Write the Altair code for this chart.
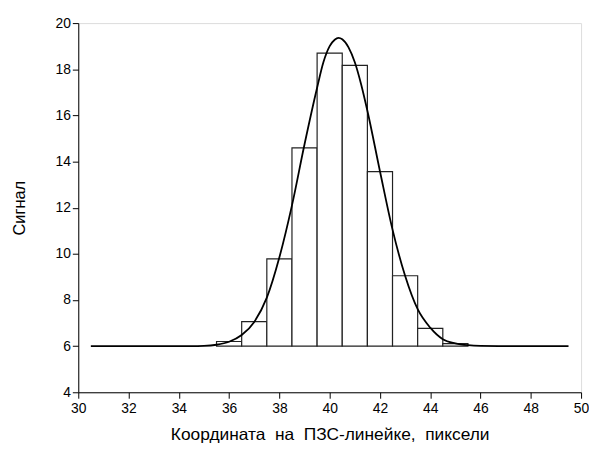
import altair as alt
import pandas as pd

# Histogram bins (centres) and their heights
bin_centers = [36, 37, 38, 39, 40, 41, 42, 43, 44, 45]
bin_values = [6.20, 7.06, 9.78, 14.59, 18.70, 18.17, 13.56, 9.05, 6.77, 6.11]
bin_width = 1.0
baseline = 6.0

# Fitted curve, points
curve_x = [30.5, 33.0, 34.5, 35.0, 35.5, 36.0, 36.5, 37.0, 37.5, 38.0, 38.5, 39.0,
           39.5, 39.75, 40.0, 40.2, 40.35, 40.5, 40.75, 41.0, 41.25, 41.5, 42.0,
           42.5, 43.0, 43.5, 44.0, 44.5, 45.0, 45.5, 46.0, 47.0, 49.5]
curve_y = [6.0, 6.0, 6.0, 6.01, 6.06, 6.19, 6.48, 7.05, 8.1, 9.85, 12.1, 14.75,
           17.2, 18.3, 19.0, 19.28, 19.36, 19.3, 18.95, 18.3, 17.35, 16.2, 13.58,
           11.05, 9.05, 7.6, 6.8, 6.3, 6.12, 6.04, 6.01, 6.0, 6.0]

x_title = "Координата\u00a0\u00a0на\u00a0\u00a0ПЗС-линейке,\u00a0\u00a0пиксели"
y_title = "Сигнал"

bars = pd.DataFrame({
    "left": [c - bin_width / 2 for c in bin_centers],
    "right": [c + bin_width / 2 for c in bin_centers],
    "base": [baseline] * len(bin_centers),
    "value": bin_values,
})
curve = pd.DataFrame({"x": curve_x, "y": curve_y})

FONT = "Liberation Sans"

x_axis = alt.Axis(
    values=list(range(30, 51)),
    labelExpr="datum.value % 2 == 0 ? datum.label : ''",
    tickSize={"expr": "datum.value % 2 == 0 ? 6 : 3"},
    grid=False, domainColor="black", tickColor="black", labelColor="black",
    labelFont=FONT, labelFontSize=14, titleFont=FONT, titleFontSize=17.5,
    titleFontWeight="normal", titleColor="black", labelPadding=3, titlePadding=11,
    labelFlush=False, labelOverlap=False,
)
y_axis = alt.Axis(
    values=list(range(4, 21)),
    labelExpr="datum.value % 2 == 0 ? datum.label : ''",
    tickSize={"expr": "datum.value % 2 == 0 ? 6 : 3"},
    grid=False, domainColor="black", tickColor="black", labelColor="black",
    labelFont=FONT, labelFontSize=14, titleFont=FONT, titleFontSize=16.5,
    titleFontWeight="normal", titleColor="black", labelPadding=2, titlePadding=28,
    labelFlush=False, labelOverlap=False,
)

xs = alt.Scale(domain=[30, 50], nice=False, zero=False)
ys = alt.Scale(domain=[4, 20], nice=False, zero=False)

rects = alt.Chart(bars).mark_rect(fill="white", stroke="#222222", strokeWidth=1.2).encode(
    x=alt.X("left:Q", scale=xs, axis=x_axis, title=x_title),
    x2="right:Q",
    y=alt.Y("base:Q", scale=ys, axis=y_axis, title=y_title),
    y2="value:Q",
)

line = alt.Chart(curve).mark_line(color="black", strokeWidth=1.8, interpolate="monotone").encode(
    x=alt.X("x:Q", scale=xs),
    y=alt.Y("y:Q", scale=ys),
)

chart = (rects + line).properties(
    width=508, height=373,
    autosize=alt.AutoSizeParams(type="none"),
    padding={"left": 71, "top": 13, "right": 8, "bottom": 50},
).configure_view(stroke=None).configure(background="white")

chart.save("out.html", embed_options={"renderer": "svg", "actions": False})
